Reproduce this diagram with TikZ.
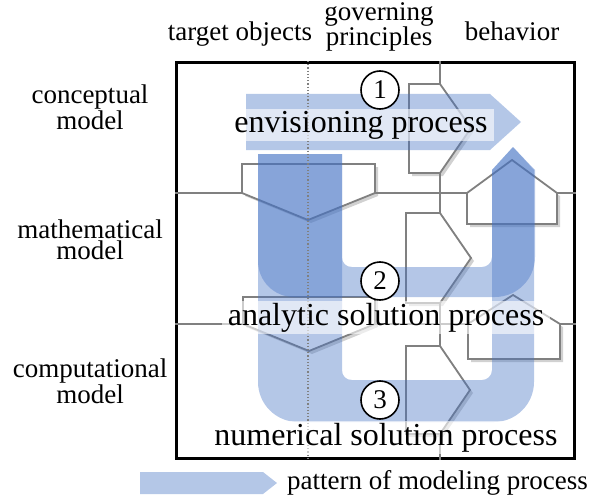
\documentclass[tikz,border=0pt]{standalone}
\usepackage{fontspec}
\setmainfont{Liberation Serif}
\usepackage{tikz}
\usetikzlibrary{
  shadows,
  positioning,
  calc
}
\definecolor{mpFlow}{HTML}{4472C4}
\definecolor{mpLine}{HTML}{808080}
\tikzset{
  colhead/.style={font=\fontsize{27}{24}\selectfont, align=center, inner sep=0pt},
  rowhead/.style={font=\fontsize{27}{21}\selectfont, align=center, inner sep=0pt},
  proclabel/.style={font=\fontsize{32}{32}\selectfont, inner xsep=6pt, inner ysep=2pt,
    fill=white, fill opacity=0.6, text opacity=1},
  stepmark/.style={draw, circle, fill=white, line width=1.6pt, minimum size=38pt,
    inner sep=0pt, font=\fontsize{27}{27}\selectfont},
  partshape/.style={draw=mpLine, line width=1.8pt, fill=white,
    drop shadow={shadow xshift=3pt, shadow yshift=-3pt, opacity=0.3, fill=black!60}},
  link/.style={draw=mpLine, line width=1.8pt},
  flowband/.style={fill=mpFlow, fill opacity=0.4},
  frame/.style={draw=black, line width=2.8pt, minimum width=398pt, minimum height=396pt},
  colguide/.style={draw=mpLine, dotted, line width=1.2pt}
}

\begin{document}
\begin{tikzpicture}[x=1pt, y=-1pt]
  \useasboundingbox (0,0) rectangle (600,495);
  \node[frame, anchor=north west] (box) at (175,61) {};
  % headings
  \node[colhead, anchor=base] (hdTarget) at (240,41) {target objects};
  \node[colhead, anchor=base] (hdPrinc) at (379,46) {governing\\principles};
  \node[colhead, anchor=base] (hdBehav) at (512,41) {behavior};
  \node[rowhead, anchor=base] (hdConc) at (90,129) {conceptual\\model};
  \node[rowhead, anchor=base] (hdMath) at (90,259) {mathematical\\model};
  \node[rowhead, anchor=base] (hdComp) at (90,403) {computational\\model};
  % parts of each model
  \coordinate (jM) at (440,193);
  \coordinate (jN) at (440,324);
  \draw[partshape] (409,84) -- (440,84) coordinate (princC-n) -- (471,128) -- (440,173) coordinate (princC-s) -- (409,173) -- cycle;
  \draw[partshape] (406,213) -- (440,213) coordinate (princM-n) -- (471,258) -- (440,303) coordinate (princM-s) -- (406,303) -- cycle;
  \draw[partshape] (406,346) -- (440,346) coordinate (princN-n) -- (470,390) -- (440,434) coordinate (princN-s) -- (406,434) -- cycle;
  \draw[partshape] (242,164) -- (375,164) -- (375,193) coordinate (tgtM-e) -- (308,220) -- (242,193) coordinate (tgtM-w) -- cycle;
  \draw[partshape] (243,297) -- (375,297) -- (375,324) coordinate (tgtN-e) -- (309,351) -- (243,324) coordinate (tgtN-w) -- cycle;
  \draw[partshape] (467,193) coordinate (behM-w) -- (512,160) -- (557,193) coordinate (behM-e) -- (557,224) -- (467,224) -- cycle;
  \draw[partshape] (468,324) coordinate (behN-w) -- (513,295) -- (560,324) coordinate (behN-e) -- (560,359) -- (468,359) -- cycle;
  % links between parts
  \draw[link] (box.north -| princC-n) -- (princC-n);
  \draw[link] (princC-s) -- (jM) -- (princM-n);
  \draw[link] (princM-s) -- (jN) -- (princN-n);
  \draw[link] (princN-s) -- (box.south -| princN-s);
  \draw[link] (box.west |- tgtM-w) -- (tgtM-w);
  \draw[link] (tgtM-e) -- (jM) -- (behM-w);
  \draw[link] (behM-e) -- (box.east |- behM-e);
  \draw[link] (box.west |- tgtN-w) -- (tgtN-w);
  \draw[link] (tgtN-e) -- (jN) -- (behN-w);
  \draw[link] (behN-e) -- (box.east |- behN-e);
  % modeling process bands
  \fill[flowband] (246,94) -- (490,94) -- (521,122) -- (490,150) -- (246,150) -- cycle;
  \fill[flowband] (258,154) -- (258,261) .. controls (258,281) and (274,297) .. (294,297)
    -- (495,297) .. controls (517,297) and (535,279) .. (535,257) -- (535,170) -- (513,147) -- (492,170)
    -- (492,257) .. controls (492,263) and (487,267) .. (482,267) -- (352,267)
    .. controls (346,267) and (342,263) .. (342,257) -- (342,154) -- cycle;
  \fill[flowband] (258,154) -- (258,382) .. controls (258,404) and (276,422) .. (298,422)
    -- (494,422) .. controls (516,422) and (534,404) .. (534,382) -- (534,170) -- (513,147) -- (492,170)
    -- (492,370) .. controls (492,376) and (487,380) .. (482,380) -- (352,380)
    .. controls (346,380) and (342,376) .. (342,370) -- (342,154) -- cycle;
  \draw[colguide] (box.north -| 308,0) -- (box.south -| 308,0);
  % process names
  \node[proclabel, anchor=base] (procEnv) at (361,132) {envisioning process};
  \node[proclabel, anchor=base] (procAna) at (386,325) {analytic solution process};
  \node[proclabel, anchor=base] (procNum) at (386,445) {numerical solution process};
  \node[stepmark] (step1) at (380,90) {1};
  \node[stepmark] (step2) at (380,281) {2};
  \node[stepmark] (step3) at (380,400) {3};
  % legend
  \fill[flowband] (140,472) -- (263,472) -- (277,483) -- (263,494) -- (140,494) -- cycle;
  \node[colhead, anchor=base west] (legend) at (287,489) {pattern of modeling process};
\end{tikzpicture}
\end{document}
